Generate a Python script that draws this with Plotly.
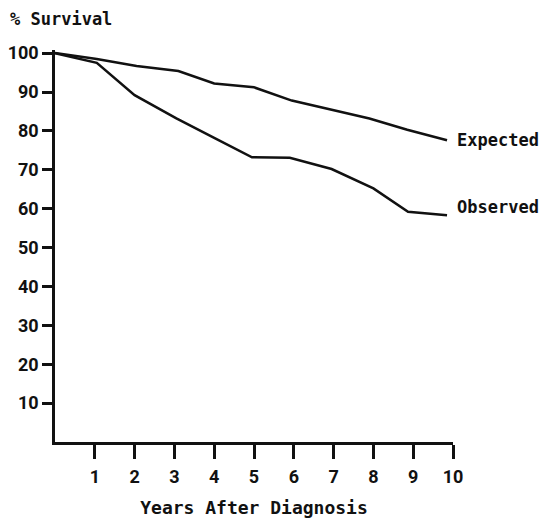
import plotly.graph_objects as go

# Data
expected_x = [0, 1.05, 2.05, 3.1, 4.0, 5.0, 5.95, 6.95, 7.9, 8.85, 9.85]
expected_y = [100, 98.5, 96.7, 95.4, 92.2, 91.2, 87.8, 85.5, 83.2, 80.3, 77.6]
observed_x = [0, 1.05, 2.0, 3.05, 4.0, 4.95, 5.9, 6.95, 8.0, 8.87, 9.85]
observed_y = [100, 97.5, 89.2, 83.2, 78.2, 73.2, 73.1, 70.2, 65.2, 59.2, 58.3]
x_ticks = [1, 2, 3, 4, 5, 6, 7, 8, 9, 10]
y_ticks = [10, 20, 30, 40, 50, 60, 70, 80, 90, 100]

tick_font = dict(family="Roboto", size=18, color="#111", weight="bold")
mono_font = dict(family="DejaVu Sans Mono", size=17, color="#111")

fig = go.Figure()
fig.add_trace(go.Scatter(x=expected_x, y=expected_y, mode="lines",
                         line=dict(color="#111", width=2.5), name="Expected"))
fig.add_trace(go.Scatter(x=observed_x, y=observed_y, mode="lines",
                         line=dict(color="#111", width=2.5), name="Observed"))

fig.add_annotation(x=expected_x[-1], y=expected_y[-1], text="<b>Expected</b>",
                   showarrow=False, xanchor="left", xshift=8, font=mono_font)
fig.add_annotation(x=observed_x[-1], y=observed_y[-1], text="<b>Observed</b>",
                   showarrow=False, xanchor="left", xshift=8, yshift=8, font=mono_font)
fig.add_annotation(xref="paper", yref="paper", x=0, y=1.08, xshift=-47, text="<b>% Survival</b>",
                   showarrow=False, xanchor="left", yanchor="middle", font=mono_font)

fig.update_layout(
    width=539, height=512,
    margin=dict(l=47, r=94, t=42, b=78, autoexpand=False),
    paper_bgcolor="white", plot_bgcolor="white",
    showlegend=False,
    xaxis=dict(range=[0, 10], showgrid=False, zeroline=False, automargin=False,
               showline=True, linecolor="#111", linewidth=2.5,
               ticks="outside", ticklen=14, tickwidth=2.5, tickcolor="#111",
               tickvals=x_ticks, ticktext=[str(v) for v in x_ticks],
               tickfont=tick_font, ticklabelstandoff=3,
               title=dict(text="<b>Years After Diagnosis</b>", font=dict(family="DejaVu Sans Mono", size=18, color="#111"), standoff=16)),
    yaxis=dict(range=[0, 100.8], showgrid=False, zeroline=False, automargin=False,
               showline=True, linecolor="#111", linewidth=2.5,
               ticks="outside", ticklen=10, tickwidth=2.5, tickcolor="#111",
               tickvals=y_ticks, ticktext=[str(v) for v in y_ticks],
               tickfont=tick_font),
)

fig.write_html("out.html")
